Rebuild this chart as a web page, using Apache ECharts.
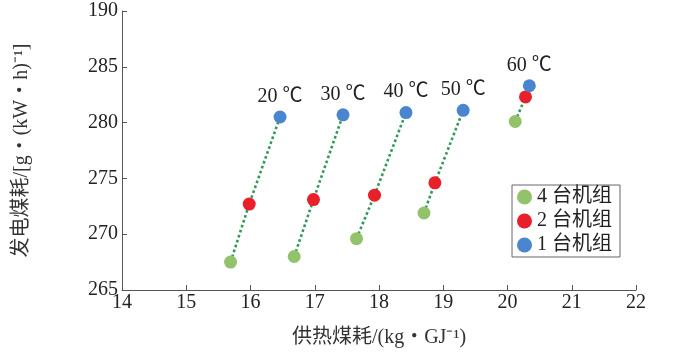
<!DOCTYPE html>
<html><head><meta charset="utf-8">
<script src="https://cdn.jsdelivr.net/npm/echarts@6/dist/echarts.min.js"></script>
<style>html,body{margin:0;padding:0;background:#fff}#c{width:693px;height:355px}</style>
</head><body><div id="c"></div>
<script>
var temps = ['20 ℃','30 ℃','40 ℃','50 ℃','60 ℃'];
var x4 = [15.69, 16.68, 17.65, 18.70, 20.12];
var y4 = [267.5, 268.0, 269.6, 271.9, 280.1];
var x2 = [15.98, 16.98, 17.93, 18.87, 20.28];
var y2 = [272.7, 273.1, 273.5, 274.6, 282.3];
var x1 = [16.46, 17.44, 18.42, 19.31, 20.34];
var y1 = [280.5, 280.7, 280.9, 281.1, 283.3];
var names = ['4 台机组', '2 台机组', '1 台机组'];
var colors = ['#92c26a', '#e8202a', '#4a85cf'];
var yTickLabels = {265:'265',270:'270',275:'275',280:'280',285:'285',290:'190'};

var FONT = '"Liberation Serif","Noto Sans CJK SC",serif';
function pts(xs, ys){ return xs.map(function(x,i){return [x, ys[i]];}); }

var series = [];
temps.forEach(function(t, i){
  series.push({
    type:'line', silent:true, symbol:'none', z:1,
    data:[[x4[i],y4[i]],[x2[i],y2[i]],[x1[i],y1[i]]],
    lineStyle:{color:'#2e9a58', width:2.6, type:[2.6,2.6]}
  });
});
[[x4,y4],[x2,y2],[x1,y1]].forEach(function(d, k){
  var s = {
    type:'scatter', name:names[k], z:3,
    data:pts(d[0], d[1]), symbolSize:13,
    itemStyle:{color:colors[k], opacity:1}
  };
  if (k === 2) {
    s.label = {show:true, position:'top', distance:4,
      formatter:function(p){return temps[p.dataIndex];},
      fontFamily:FONT, fontSize:20, color:'#222'};
  }
  series.push(s);
});

var chart = echarts.init(document.getElementById('c'), null, {renderer:'canvas'});
chart.setOption({
  animation:false,
  backgroundColor:'#fff',
  grid:{left:122, right:57, top:11, bottom:65},
  xAxis:{type:'value', min:14, max:22, interval:1,
    name:'供热煤耗/(kg・GJ⁻¹)', nameLocation:'middle', nameGap:38,
    nameTextStyle:{fontFamily:FONT, fontSize:20, color:'#333'},
    axisLine:{lineStyle:{color:'#555', width:1}},
    axisTick:{inside:true, length:5, lineStyle:{color:'#555'}},
    axisLabel:{fontFamily:FONT, fontSize:20, color:'#222', margin:3},
    splitLine:{show:false}},
  yAxis:{type:'value', min:265, max:290, interval:5,
    name:'发电煤耗/[g・(kW・h)⁻¹]', nameLocation:'middle', nameGap:90, nameRotate:90,
    nameTextStyle:{fontFamily:FONT, fontSize:20, color:'#333'},
    axisLine:{show:true, lineStyle:{color:'#555', width:1}},
    axisTick:{show:true, inside:true, length:5, lineStyle:{color:'#555'}},
    axisLabel:{fontFamily:FONT, fontSize:20, color:'#222', margin:4,
      formatter:function(v){return yTickLabels[v] || String(v);}},
    splitLine:{show:false}},
  legend:{orient:'vertical', left:512, top:185, data:names,
    icon:'circle', itemWidth:15, itemHeight:15, itemGap:4,
    borderColor:'#666', borderWidth:1, padding:[2,8,2,5],
    textStyle:{fontFamily:FONT, fontSize:20, color:'#222'}},
  series:series
});
</script></body></html>
